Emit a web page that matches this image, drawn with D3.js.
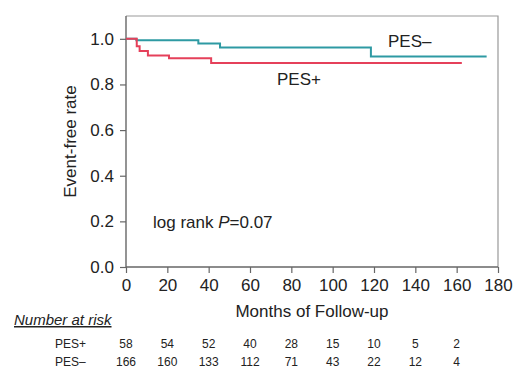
<!DOCTYPE html>
<html>
<head>
<meta charset="utf-8">
<script src="https://cdn.jsdelivr.net/npm/d3@7"></script>
<style>
  body { margin: 0; background: #fff; }
  svg { display: block; font-family: "Liberation Sans", Arial, Helvetica, sans-serif; }
</style>
</head>
<body>
<svg id="chart"></svg>
<script>
// step curves (months, event-free rate)
var plusMonths = [0, 5.2, 6.6, 10.6, 20.8, 41.2, 162.5];
var plusRate = [1, 0.967, 0.947, 0.927, 0.915, 0.894, 0.894];
var minusMonths = [0, 5, 35, 45.5, 118.5, 174.5];
var minusRate = [1, 0.994, 0.98, 0.962, 0.923, 0.923];

var xTicks = [0, 20, 40, 60, 80, 100, 120, 140, 160, 180];
var yTicks = [0, 0.2, 0.4, 0.6, 0.8, 1.0];

// number at risk table
var riskMonths = [0, 20, 40, 60, 80, 100, 120, 140, 160];
var riskPlus = [58, 54, 52, 40, 28, 15, 10, 5, 2];
var riskMinus = [166, 160, 133, 112, 71, 43, 22, 12, 4];

function drawChart(){
  var width = 519, height = 369;
  var pl = 126, pt = 16, pr = 498, pb = 267;

  var svg = d3.select("#chart").attr("width", width).attr("height", height);

  var x = d3.scaleLinear().domain([0, 180]).range([pl, pr]);
  var y = d3.scaleLinear().domain([0, 1.1]).range([pb, pt]);

  // frame top / right
  svg.append("path")
      .attr("d", "M" + pl + "," + pt + "H" + pr + "V" + pb)
      .attr("fill", "none")
      .attr("stroke", "#999")
      .attr("stroke-width", 1.2);

  var xAxis = svg.append("g")
      .attr("transform", "translate(0," + pb + ")")
      .call(d3.axisBottom(x).tickValues(xTicks).tickSize(6).tickSizeOuter(0).tickPadding(6));

  var yAxis = svg.append("g")
      .attr("transform", "translate(" + pl + ",0)")
      .call(d3.axisLeft(y).tickValues(yTicks).tickFormat(d3.format(".1f")).tickSize(6).tickSizeOuter(0).tickPadding(6));

  [xAxis, yAxis].forEach(function(g){
    g.select(".domain").attr("stroke", "#666").attr("stroke-width", 1.4);
    g.selectAll(".tick line").attr("stroke", "#666").attr("stroke-width", 1.2);
    g.selectAll(".tick text").attr("fill", "#222").style("font-size", "17px");
  });
  yAxis.select(".domain").attr("d", "M0," + pb + "V" + pt);
  xAxis.select(".domain").attr("d", "M" + pl + ",0H" + pr);

  var line = d3.line()
      .x(function(d){ return x(d[0]); })
      .y(function(d){ return y(d[1]); })
      .curve(d3.curveStepAfter);

  svg.append("path")
      .datum(d3.zip(minusMonths, minusRate))
      .attr("d", line)
      .attr("fill", "none")
      .attr("stroke", "#2e9aa3")
      .attr("stroke-width", 2);

  svg.append("path")
      .datum(d3.zip(plusMonths, plusRate))
      .attr("d", line)
      .attr("fill", "none")
      .attr("stroke", "#e5405a")
      .attr("stroke-width", 2);

  svg.append("text").attr("x", 388).attr("y", 47).style("font-size", "17px").attr("fill", "#222").text("PES\u2013");
  svg.append("text").attr("x", 277).attr("y", 85).style("font-size", "17px").attr("fill", "#222").text("PES+");

  var lr = svg.append("text").attr("x", 153).attr("y", 228).style("font-size", "17px").attr("fill", "#222");
  lr.append("tspan").text("log rank ");
  lr.append("tspan").style("font-style", "italic").text("P");
  lr.append("tspan").text("=0.07");

  svg.append("text")
      .attr("transform", "translate(76," + ((pt + pb) / 2) + ") rotate(-90)")
      .attr("text-anchor", "middle")
      .style("font-size", "17px")
      .attr("fill", "#222")
      .text("Event-free rate");

  svg.append("text")
      .attr("x", (pl + pr) / 2)
      .attr("y", 317)
      .attr("text-anchor", "middle")
      .style("font-size", "17px")
      .attr("fill", "#222")
      .text("Months of Follow-up");

  svg.append("text")
      .attr("x", 14).attr("y", 325)
      .style("font-size", "15px")
      .style("font-style", "italic")
      .style("text-decoration", "underline")
      .attr("fill", "#222")
      .text("Number at risk");

  var rows = [["PES+", riskPlus, 348], ["PES\u2013", riskMinus, 366]];
  rows.forEach(function(r){
    svg.append("text")
        .attr("x", 55).attr("y", r[2])
        .style("font-size", "12px")
        .attr("fill", "#222")
        .text(r[0]);
    svg.selectAll(null)
        .data(r[1])
      .enter().append("text")
        .attr("x", function(d, i){ return x(riskMonths[i]); })
        .attr("y", r[2])
        .attr("text-anchor", "middle")
        .style("font-size", "12px")
        .attr("fill", "#222")
        .text(function(d){ return d; });
  });
}

drawChart();
</script>
</body>
</html>
